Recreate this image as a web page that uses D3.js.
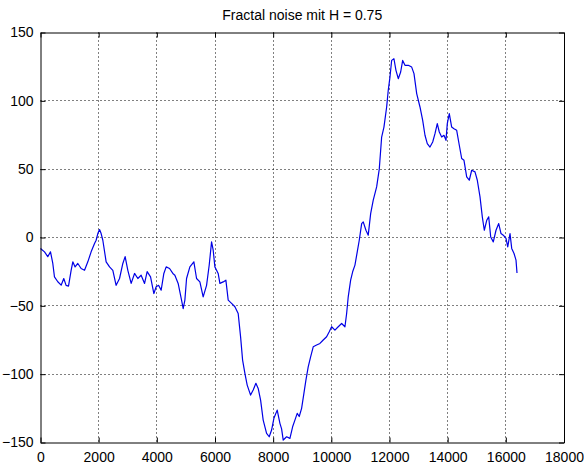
<!DOCTYPE html>
<html>
<head>
<meta charset="utf-8">
<script src="https://cdn.jsdelivr.net/npm/d3@7"></script>
<style>
  body { margin: 0; background: #fff; }
  svg text { font-family: "Liberation Sans", Arial, sans-serif; font-size: 14px; fill: #000; }
</style>
</head>
<body>
<svg id="chart" width="584" height="468"></svg>
<script>
// chart title
var title = "Fractal noise mit H = 0.75"

// tick labels
var xTicks = [0, 2000, 4000, 6000, 8000, 10000, 12000, 14000, 16000, 18000]
var yTicks = [-150, -100, -50, 0, 50, 100, 150]

// sample index / noise value
var sampleIdx = [0, 138, 250, 344, 423, 480, 595, 710, 800, 880, 963, 1053, 1111, 1190, 1283, 1397, 1514, 1627, 1741, 1858,
  1913, 1971, 2030, 2085, 2143, 2257, 2374, 2487, 2600, 2718, 2831, 2910, 3003, 3117, 3234, 3347, 3460, 3578, 3667, 3784,
  3898, 3977, 4059, 4149, 4241, 4321, 4438, 4551, 4620, 4733, 4850, 4906, 4964, 5022, 5136, 5273, 5366, 5480, 5593, 5710,
  5800, 5882, 5938, 5996, 6109, 6168, 6281, 6374, 6454, 6570, 6684, 6797, 6880, 6949, 7028, 7107, 7224, 7313, 7406, 7485,
  7568, 7657, 7774, 7864, 7946, 8025, 8139, 8232, 8290, 8346, 8463, 8576, 8669, 8748, 8827, 8896, 8978, 9057, 9126, 9205,
  9288, 9377, 9494, 9608, 9721, 9838, 9928, 10010, 10124, 10237, 10354, 10468, 10526, 10581, 10664, 10733, 10812, 10891,
  10960, 11043, 11097, 11190, 11269, 11352, 11441, 11558, 11648, 11730, 11809, 11902, 11957, 12016, 12074, 12153, 12222,
  12302, 12384, 12453, 12532, 12646, 12763, 12842, 12935, 13048, 13141, 13220, 13299, 13392, 13485, 13564, 13643, 13712,
  13794, 13873, 13942, 13987, 14056, 14138, 14217, 14310, 14400, 14482, 14561, 14654, 14743, 14826, 14940, 15019, 15112,
  15191, 15260, 15343, 15411, 15480, 15569, 15662, 15755, 15834, 15913, 16006, 16065, 16144, 16202, 16282, 16350, 16384]
var noiseVal = [-8, -10.5, -14, -10.5, -19, -28.8, -32.4, -34.9, -30, -35, -35.6, -24, -17.8, -21.5, -19, -22.7, -24, -17.8, -10.5, -4.4,
  -2, 2.9, 5.8, 2.9, -2, -17.8, -21.5, -24, -35, -30, -19, -14, -24, -33.6, -26.3, -30, -27.6, -33.6, -25, -28.8,
  -41, -36, -35, -38.5, -26.3, -21.5, -22.7, -26.3, -27.6, -33.6, -45.8, -52, -45.8, -30, -21.5, -17.8, -30, -32.5, -43.4, -35,
  -20.3, -3.2, -9.3, -21.5, -26.3, -33.6, -32.5, -31.2, -45.8, -48.2, -50.7, -55.6, -72.7, -89.7, -99.4, -108, -115.3, -111.6, -106.7, -110.4,
  -119, -133.6, -143.3, -145.8, -140.9, -132.3, -126.3, -136, -140, -148.2, -145.8, -147, -138.5, -133.6, -128.7, -131, -125, -114, -104.3, -94.6,
  -87.3, -80, -78.7, -77.5, -75, -72.6, -69, -65.3, -67.8, -65.3, -62.9, -65.3, -55.6, -43.4, -31.2, -25.1, -20.2, -10.5,
  -2, 10.2, 11.4, 5.3, 1.7, 17.5, 27.3, 37, 50, 73.5, 80.8, 95.5, 107.7, 117.4, 129.6, 130.8, 122.3,
  116.2, 121.1, 129.6, 126, 126, 124.7, 119.9, 105.3, 95.5, 85.7, 74.8, 68.7, 66.2, 69.9, 76, 83.3, 77.2,
  73.5, 74.8, 71.1, 83.3, 90.6, 80.8, 79.6, 78.4, 67.5, 57.8, 56.5, 44.3, 41.9, 49.2, 48, 41.9, 29.7,
  15.1, 5.3, 12.6, 15.1, 0.4, -3.2, 5.3, 10.2, 2.9, 1.7, -0.7, -6.9, 2.9, -8, -11.7, -16.6, -26]

var svg = d3.select("#chart")
var margin = {left: 40.5, top: 32.5, right: 20, bottom: 25.5}
var w = 584 - margin.left - margin.right
var h = 468 - margin.top - margin.bottom

var x = d3.scaleLinear().domain([0, 18000]).range([0, w])
var y = d3.scaleLinear().domain([-150, 150]).range([h, 0])

var g = svg.append("g").attr("transform", "translate(" + margin.left + "," + margin.top + ")")

// dotted grid
g.selectAll("line.gx")
  .data(xTicks.slice(1, -1))
  .enter().append("line")
    .attr("class", "gx")
    .attr("x1", d => Math.round(x(d)) + 0.5 - 0.5).attr("x2", d => Math.round(x(d)))
    .attr("y1", 0).attr("y2", h)
    .attr("stroke", "#000").attr("stroke-dasharray", "1,3")

g.selectAll("line.gy")
  .data(yTicks.slice(1, -1))
  .enter().append("line")
    .attr("class", "gy")
    .attr("x1", 0).attr("x2", w)
    .attr("y1", d => Math.round(y(d))).attr("y2", d => Math.round(y(d)))
    .attr("stroke", "#000").attr("stroke-dasharray", "1,3")

// the noise trace
var pts = sampleIdx.map((d, i) => [d, noiseVal[i]])
g.append("path")
  .datum(pts)
  .attr("fill", "none")
  .attr("stroke", "#0000e6")
  .attr("stroke-width", 1.2)
  .attr("stroke-linejoin", "round")
  .attr("d", d3.line().x(d => x(d[0])).y(d => y(d[1])))

// axes, matlab style (ticks inside)
var tick = 5
var xb = d3.axisBottom(x).tickValues(xTicks).tickSizeInner(-tick).tickSizeOuter(0).tickPadding(10).tickFormat(d3.format("d"))
var xt = d3.axisTop(x).tickValues(xTicks).tickSizeInner(-tick).tickSizeOuter(0).tickFormat("")
var yl = d3.axisLeft(y).tickValues(yTicks).tickSizeInner(-tick).tickSizeOuter(0).tickPadding(7).tickFormat(d3.format("d"))
var yr = d3.axisRight(y).tickValues(yTicks).tickSizeInner(-tick).tickSizeOuter(0).tickFormat("")

g.append("g").attr("class", "axis").attr("transform", "translate(0," + h + ")").call(xb)
g.append("g").attr("class", "axis").call(xt)
g.append("g").attr("class", "axis").call(yl)
g.append("g").attr("class", "axis").attr("transform", "translate(" + w + ",0)").call(yr)

svg.selectAll(".axis path, .axis line").attr("stroke", "#000")
svg.selectAll(".axis text").attr("font-size", 14).attr("font-family", "Liberation Sans, Arial, sans-serif")

// title
svg.append("text")
  .attr("x", margin.left + w / 2)
  .attr("y", 20)
  .attr("text-anchor", "middle")
  .text(title)
</script>
</body>
</html>
